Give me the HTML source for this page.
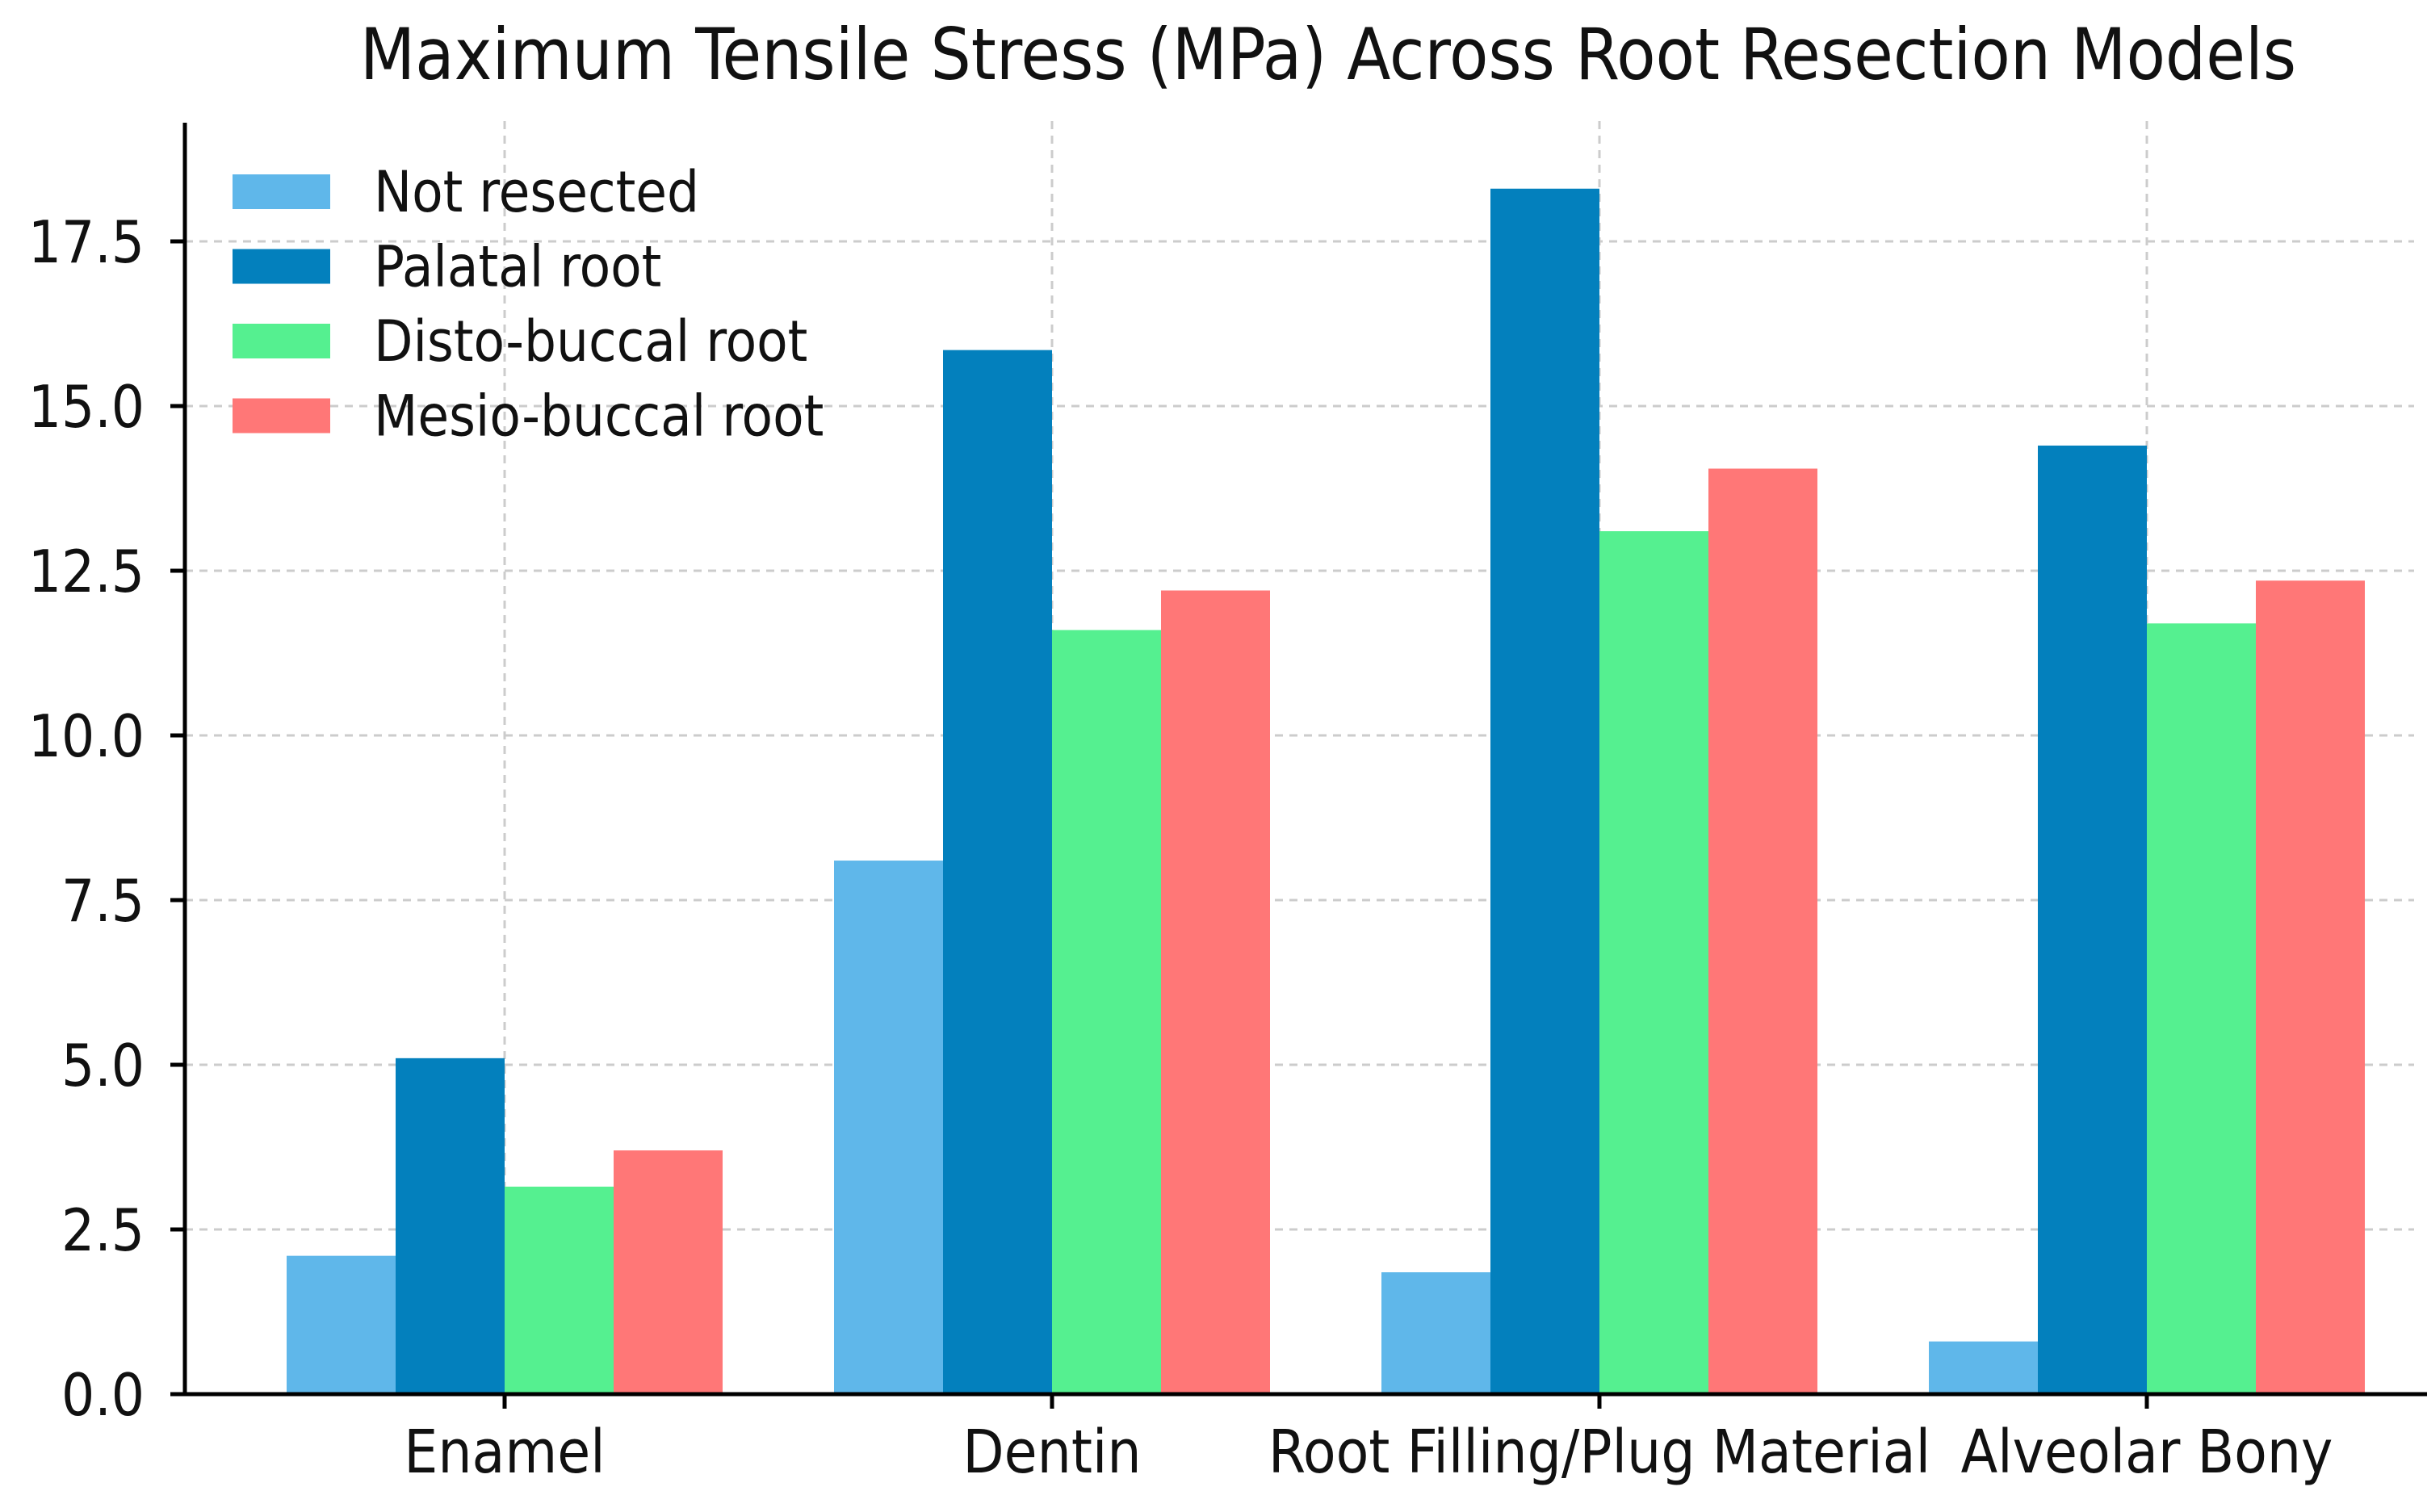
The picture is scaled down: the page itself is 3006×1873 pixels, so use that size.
<!DOCTYPE html>
<html><head><meta charset="utf-8"><style>body{margin:0;background:#fff}svg{display:block}</style></head>
<body>
<svg id="chart" width="3006" height="1873" xmlns="http://www.w3.org/2000/svg" font-family="DejaVu Sans Condensed, DejaVu Sans, Liberation Sans, sans-serif">
<text x="1645" y="98" font-size="88" text-anchor="middle" fill="#111">Maximum Tensile Stress (MPa) Across Root Resection Models</text>
<g id="grid"></g><g id="bars"></g><g id="axes"></g><g id="legend"></g>
</svg>
<script>
const categories = ["Enamel","Dentin","Root Filling/Plug Material","Alveolar Bony"];
const seriesNames = ["Not resected","Palatal root","Disto-buccal root","Mesio-buccal root"];
const notResected = [2.1, 8.1, 1.85, 0.8];
const palatal = [5.1, 15.85, 18.3, 14.4];
const distoBuccal = [3.15, 11.6, 13.1, 11.7];
const mesioBuccal = [3.7, 12.2, 14.05, 12.35];
const yTicks = [0, 2.5, 5, 7.5, 10, 12.5, 15, 17.5];
const yTickLabels = ["0.0","2.5","5.0","7.5","10.0","12.5","15.0","17.5"];

const colors = ["#5fb7ea","#0380bd","#55f090","#ff7777"];
const series = [notResected, palatal, distoBuccal, mesioBuccal];
const NS = "http://www.w3.org/2000/svg";
const x0 = 229, yBase = 1727, pxPerUnit = 81.6;
const y = v => yBase - v * pxPerUnit;
const groupX = i => 625 + i * 678;
const barW = 135;
function mk(tag, attrs, parent){const e=document.createElementNS(NS,tag);for(const k in attrs)e.setAttribute(k,attrs[k]);parent.appendChild(e);return e;}
const grid=document.getElementById('grid'),bars=document.getElementById('bars'),axes=document.getElementById('axes'),legend=document.getElementById('legend');
yTicks.forEach((t,i)=>{
  if(t>0){const g=mk('line',{x1:x0,x2:2990,y1:y(t),y2:y(t),stroke:'#ccc','stroke-width':3,'stroke-dasharray':'10,8'},grid);
  
  }
  const tk=mk('line',{x1:x0-18,x2:x0,y1:y(t),y2:y(t),stroke:'#000','stroke-width':5},axes);
  
  
  const tl=mk('text',{x:x0-50,y:y(t)+26,'font-size':72,'text-anchor':'end',fill:'#111'},axes);
  tl.textContent=yTickLabels[i];
  
  
});
categories.forEach((c,i)=>{
  const gx=groupX(i);
  const vg=mk('line',{x1:gx,x2:gx,y1:150,y2:yBase,stroke:'#ccc','stroke-width':3,'stroke-dasharray':'10,8'},grid);
  
  
  series.forEach((s,j)=>{
    const bx=gx-2*barW+j*barW;
    const r=mk('rect',{x:bx,y:y(s[i]),width:barW,height:yBase-y(s[i]),fill:colors[j]},bars);
    
    
  });
  const tk=mk('line',{x1:gx,x2:gx,y1:yBase,y2:yBase+18,stroke:'#000','stroke-width':5},axes);
  
  
  const tl=mk('text',{x:gx,y:1824,'font-size':74,'text-anchor':'middle',fill:'#111'},axes);
  tl.textContent=c;
  
  
});
const ya=mk('line',{x1:x0,x2:x0,y1:152,y2:yBase+2,stroke:'#000','stroke-width':5},axes);


const xa=mk('line',{x1:x0-2,x2:3006,y1:yBase,y2:yBase,stroke:'#000','stroke-width':5},axes);


seriesNames.forEach((n,j)=>{
  const ly=216+j*92.5;
  const p=mk('rect',{x:288,y:ly,width:121,height:43,fill:colors[j]},legend);
  
  
  const t=mk('text',{x:463,y:ly+46,'font-size':70,fill:'#111'},legend);
  t.textContent=n;
  
  
});
</script>
</body></html>
